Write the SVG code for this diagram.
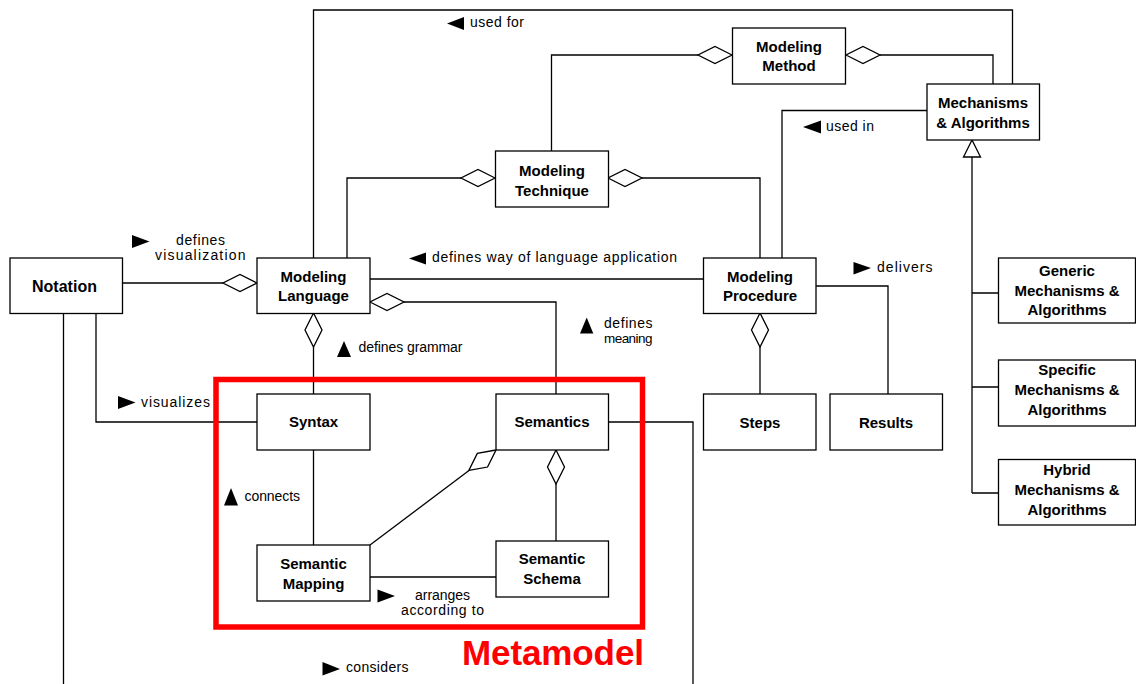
<svg xmlns="http://www.w3.org/2000/svg" xmlns:xlink="http://www.w3.org/1999/xlink" width="1136" height="684" viewBox="0 0 1136 684">
<style>
.box{fill:#fff;stroke:#000;stroke-width:1.3}
.n{font-family:"Liberation Sans",Arial,sans-serif;font-weight:bold;font-size:15px;text-anchor:middle;fill:#000}
.l{font-family:"Liberation Sans",Arial,sans-serif;font-size:14px;fill:#000}
.c{fill:none;stroke:#000;stroke-width:1.3}
.t{fill:#000}
</style>
<defs>
<path id="dia" d="M0,0 L-17,-8.5 L-34,0 L-17,8.5 Z" fill="#fff" stroke="#000" stroke-width="1.3"/>
</defs>
<rect width="1136" height="684" fill="#fff"/>
<g id="connectors">
<path class="c" d="M313.5,258 V10 H1012.5 V84"/>
<path class="c" d="M551.5,151 V55 H698"/>
<path class="c" d="M880,55 H993 V84"/>
<path class="c" d="M927,110.5 H782 V258"/>
<path class="c" d="M461,178 H347 V258"/>
<path class="c" d="M642,178 H760 V258"/>
<path class="c" d="M122,283 H223"/>
<path class="c" d="M370,279 H703"/>
<path class="c" d="M404,302 H556 V394"/>
<path class="c" d="M313.5,347 V394"/>
<path class="c" d="M96,313 V422 H257"/>
<path class="c" d="M63.5,313 V684"/>
<path class="c" d="M608,422 H693 V684"/>
<path class="c" d="M313.5,450 V545"/>
<path class="c" d="M370,545 L469,470.5"/>
<path class="c" d="M556,484 V541"/>
<path class="c" d="M370,577 H496"/>
<path class="c" d="M760,347 V394"/>
<path class="c" d="M816,286 H888 V394"/>
<path class="c" d="M972,157 V493 M972,293 H998 M972,387 H998 M972,493 H998"/>
<polygon points="972,140 963.5,157 980.5,157" fill="#fff" stroke="#000" stroke-width="1.3"/>
<use xlink:href="#dia" transform="translate(732,55)"/>
<use xlink:href="#dia" transform="translate(846,55) rotate(180)"/>
<use xlink:href="#dia" transform="translate(495,178)"/>
<use xlink:href="#dia" transform="translate(608,178) rotate(180)"/>
<use xlink:href="#dia" transform="translate(257,283)"/>
<use xlink:href="#dia" transform="translate(370,302) rotate(180)"/>
<use xlink:href="#dia" transform="translate(313.5,313) rotate(-90)"/>
<use xlink:href="#dia" transform="translate(760,313) rotate(-90)"/>
<use xlink:href="#dia" transform="translate(556,450) rotate(-90)"/>
<use xlink:href="#dia" transform="translate(496,450) rotate(-37)"/>
<polygon class="t" points="464,17 447,23.5 464,30"/>
<text class="l" x="470" y="27" textLength="54">used for</text>
<polygon class="t" points="821,120.5 803,127 821,133.5"/>
<text class="l" x="826" y="131" textLength="48">used in</text>
<polygon class="t" points="426,252.5 409,258.5 426,264.5"/>
<text class="l" x="432" y="262" textLength="245">defines way of language application</text>
<polygon class="t" points="132,235 149.5,241.5 132,248"/>
<text class="l" x="176" y="245" textLength="49">defines</text>
<text class="l" x="155" y="260" textLength="90.5">visualization</text>
<polygon class="t" points="337,357 344,341 351,357"/>
<text class="l" x="358.5" y="352" textLength="104">defines grammar</text>
<polygon class="t" points="580,333.5 586.7,317.5 593.3,333.5"/>
<text class="l" x="604" y="327.5" textLength="48.5">defines</text>
<text class="l" x="604" y="343" style="font-size:13.5px" textLength="48.5">meaning</text>
<polygon class="t" points="118,396 135.5,402.5 118,409"/>
<text class="l" x="141" y="406.5" textLength="69">visualizes</text>
<polygon class="t" points="853.5,262 871,268 853.5,274.5"/>
<text class="l" x="877" y="272" textLength="55.5">delivers</text>
<polygon class="t" points="224,505.5 231,488 238,505.5"/>
<text class="l" x="244.5" y="500.5" textLength="55.5">connects</text>
<polygon class="t" points="377.5,589.5 395,596 377.5,602.5"/>
<text class="l" x="415" y="599.5" textLength="55">arranges</text>
<text class="l" x="401" y="614.5" textLength="83">according to</text>
<polygon class="t" points="322.5,662 340,669 322.5,675.5"/>
<text class="l" x="346" y="672" textLength="62.5">considers</text>
</g>
<g id="notation"><rect class="box" x="10" y="258" width="112.5" height="55.5"/><text class="n" x="64.5" y="291.5" style="font-size:16px" textLength="65">Notation</text></g>
<g id="modeling-language"><rect class="box" x="257" y="258" width="113" height="55.5"/><text class="n" x="313.5" y="282">Modeling</text><text class="n" x="313.5" y="301">Language</text></g>
<g id="modeling-technique"><rect class="box" x="495.5" y="151" width="113" height="56"/><text class="n" x="552" y="176">Modeling</text><text class="n" x="552" y="195.5">Technique</text></g>
<g id="modeling-method"><rect class="box" x="732.5" y="28" width="113" height="56"/><text class="n" x="789" y="52">Modeling</text><text class="n" x="789" y="71">Method</text></g>
<g id="mechanisms"><rect class="box" x="927" y="84" width="112.5" height="56"/><text class="n" x="983" y="107.5">Mechanisms</text><text class="n" x="983" y="127.5">&amp; Algorithms</text></g>
<g id="modeling-procedure"><rect class="box" x="703.5" y="258" width="112.5" height="55.5"/><text class="n" x="760" y="282">Modeling</text><text class="n" x="760" y="301">Procedure</text></g>
<g id="steps"><rect class="box" x="703.5" y="394" width="112.5" height="56"/><text class="n" x="760" y="427.5">Steps</text></g>
<g id="results"><rect class="box" x="830" y="394" width="112.5" height="56"/><text class="n" x="886" y="427.5">Results</text></g>
<g id="generic"><rect class="box" x="998.5" y="258" width="137" height="65"/><text class="n" x="1067" y="276">Generic</text><text class="n" x="1067" y="295.5">Mechanisms &amp;</text><text class="n" x="1067" y="315">Algorithms</text></g>
<g id="specific"><rect class="box" x="998.5" y="360" width="137" height="66"/><text class="n" x="1067" y="375">Specific</text><text class="n" x="1067" y="394.5">Mechanisms &amp;</text><text class="n" x="1067" y="414.5">Algorithms</text></g>
<g id="hybrid"><rect class="box" x="998.5" y="459.5" width="137" height="65.5"/><text class="n" x="1067" y="474.5">Hybrid</text><text class="n" x="1067" y="494.5">Mechanisms &amp;</text><text class="n" x="1067" y="514.5">Algorithms</text></g>
<g id="syntax"><rect class="box" x="257" y="394" width="113" height="56"/><text class="n" x="313.5" y="427">Syntax</text></g>
<g id="semantics"><rect class="box" x="496" y="394" width="112.5" height="56"/><text class="n" x="552" y="427">Semantics</text></g>
<g id="semantic-mapping"><rect class="box" x="257" y="545" width="113" height="56"/><text class="n" x="313.5" y="568.5">Semantic</text><text class="n" x="313.5" y="588.5">Mapping</text></g>
<g id="semantic-schema"><rect class="box" x="496" y="541" width="112.5" height="56"/><text class="n" x="552" y="564">Semantic</text><text class="n" x="552" y="583.5">Schema</text></g>
<g id="metamodel"><rect x="216" y="379.5" width="426.5" height="247.5" fill="none" stroke="#ff0000" stroke-width="5.5"/><text x="462" y="665" font-family="'Liberation Sans',Arial,sans-serif" font-weight="bold" font-size="35" fill="#ff0000" textLength="182">Metamodel</text></g>
</svg>
